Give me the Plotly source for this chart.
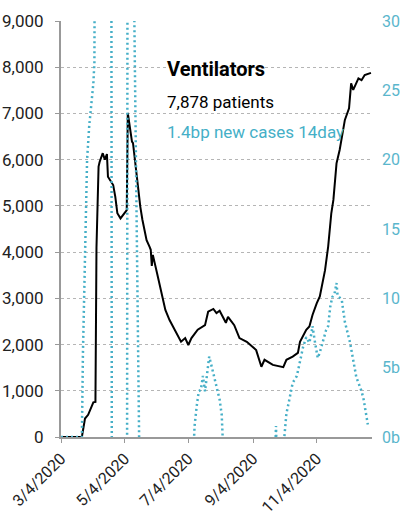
import plotly.graph_objects as go

# Ventilator patients (left axis)
vent_dates = ["2020-03-04","2020-03-24","2020-03-27","2020-03-30","2020-04-04","2020-04-06",
              "2020-04-07","2020-04-09","2020-04-10","2020-04-13","2020-04-15","2020-04-17",
              "2020-04-18","2020-04-23","2020-04-25","2020-04-27","2020-04-30","2020-05-04",
              "2020-05-06","2020-05-07","2020-05-11","2020-05-12","2020-05-16","2020-05-19",
              "2020-05-21","2020-05-25","2020-05-28","2020-05-29","2020-05-30","2020-05-31",
              "2020-06-04","2020-06-12","2020-06-16","2020-06-21","2020-06-27","2020-07-01",
              "2020-07-04","2020-07-07","2020-07-13","2020-07-20","2020-07-23","2020-07-28",
              "2020-07-31","2020-08-03","2020-08-09","2020-08-11","2020-08-17","2020-08-22",
              "2020-08-29","2020-09-07","2020-09-12","2020-09-15","2020-09-23","2020-10-03",
              "2020-10-06","2020-10-12","2020-10-17","2020-10-19","2020-10-25","2020-10-28",
              "2020-10-31","2020-11-04","2020-11-07","2020-11-12","2020-11-15","2020-11-18",
              "2020-11-20","2020-11-23","2020-11-26","2020-12-01","2020-12-05","2020-12-07",
              "2020-12-09","2020-12-14","2020-12-17","2020-12-20","2020-12-26"]
vent_values = [0,0,400,480,750,760,
               4100,5850,5950,6140,6000,6120,
               5630,5450,5200,4840,4730,4840,
               4910,7010,6390,6360,5490,4980,
               4700,4260,4110,4050,3700,3940,
               3550,2750,2530,2320,2060,2140,
               1990,2140,2320,2420,2710,2770,
               2680,2730,2470,2600,2420,2140,
               2060,1880,1520,1670,1560,1510,
               1670,1740,1820,2060,2320,2390,
               2640,2890,3040,3610,4120,4840,
               5130,5920,6210,6860,7110,7650,
               7510,7760,7720,7830,7878]

# New cases 14-day (right axis, billions "bp")
case_dates = ["2020-03-04","2020-03-24","2020-03-25","2020-03-26","2020-03-27","2020-03-29",
              "2020-03-31","2020-04-02","2020-04-04","2020-04-05","2020-04-06","2020-04-21",
              "2020-04-22","2020-05-06","2020-05-07","2020-05-13","2020-05-18","2020-07-09",
              "2020-07-10","2020-07-12","2020-07-14","2020-07-16","2020-07-18","2020-07-20",
              "2020-07-22","2020-07-24","2020-07-26","2020-07-28","2020-07-30","2020-08-01",
              "2020-08-03","2020-08-05","2020-08-06","2020-08-07","2020-09-25","2020-09-26",
              "2020-09-27","2020-10-03","2020-10-04","2020-10-06","2020-10-08","2020-10-12",
              "2020-10-16","2020-10-18","2020-10-20","2020-10-22","2020-10-25","2020-10-28",
              "2020-10-30","2020-10-31","2020-11-02","2020-11-04","2020-11-05","2020-11-07",
              "2020-11-10","2020-11-13","2020-11-15","2020-11-17","2020-11-19","2020-11-21",
              "2020-11-23","2020-11-24","2020-11-28","2020-12-01","2020-12-06","2020-12-09",
              "2020-12-12","2020-12-15","2020-12-17","2020-12-19","2020-12-21","2020-12-22",
              "2020-12-23"]
case_values = [0,0,6,10,14.7,20,
               22.4,23.8,25.5,27,50,60,
               -30,-30,60,32,-1,-1,
               0.8,2.2,3.3,3.4,4.4,3.3,
               4.6,5.8,5.2,4.6,3.8,3.2,
               2.7,1.6,0.3,-2,-2,0.8,
               -2,-2,0,1.7,2.4,3.9,
               4.4,5.1,6.0,6.5,7.2,6.8,
               7.5,8.0,7.0,6.2,5.7,6.1,
               7.0,7.7,8.0,9.4,10.1,10.3,
               11.1,10.2,9.9,8.3,6.8,5.6,
               4.3,3.7,3.3,2.7,1.9,1.4,
               0.9]

left_ticks = [0,1000,2000,3000,4000,5000,6000,7000,8000,9000]
right_ticks = [0,5,10,15,20,25,30]
right_ticktext = ["0b","5b","10","15","20","25","30"]
x_ticks = ["2020-03-04","2020-05-04","2020-07-04","2020-09-04","2020-11-04"]
x_ticktext = ["3/4/2020","5/4/2020","7/4/2020","9/4/2020","11/4/2020"]

BLUE = "#45afc7"
FONT = "Roboto, sans-serif"

fig = go.Figure()
fig.add_trace(go.Scatter(x=vent_dates, y=vent_values, mode="lines",
                         line=dict(color="black", width=2), yaxis="y"))
fig.add_trace(go.Scatter(x=case_dates, y=case_values, mode="lines",
                         line=dict(color=BLUE, width=2.5, dash="2px,3px"), yaxis="y2"))

fig.update_layout(
    width=401, height=520,
    margin=dict(l=61, r=29, t=21, b=83),
    paper_bgcolor="white", plot_bgcolor="white",
    showlegend=False,
    font=dict(family=FONT, size=17, color="#222"),
    xaxis=dict(type="date", range=["2020-03-04", "2020-12-27"], automargin=False,
               tickvals=x_ticks, ticktext=x_ticktext, tickangle=-45,
               showgrid=False, showline=True, linecolor="#999", linewidth=2,
               ticks="outside", ticklen=4, tickcolor="#999",
               tickfont=dict(size=16, color="#222"), zeroline=False),
    yaxis=dict(range=[0, 9000], tickvals=left_ticks, tickformat=",", automargin=False,
               showgrid=True, gridcolor="#b5b5b5", griddash="dot", gridwidth=1,
               showline=True, linecolor="#999", linewidth=2,
               ticks="outside", ticklen=4, tickcolor="#999",
               ticklabelstandoff=8,
               tickfont=dict(size=17, color="#222"), zeroline=False),
    yaxis2=dict(range=[0, 30], overlaying="y", side="right", automargin=False,
                tickvals=right_ticks, ticktext=right_ticktext,
                showgrid=False, showline=False, zeroline=False,
                ticks="", ticklabelstandoff=9,
                tickfont=dict(size=16, color="#5ab6cc")),
)

fig.add_annotation(xref="paper", yref="paper", x=0.335, y=0.885, xanchor="left", yanchor="middle",
                   text="<b>Ventilators</b>", showarrow=False,
                   font=dict(family=FONT, size=20, color="black"))
fig.add_annotation(xref="paper", yref="paper", x=0.335, y=0.806, xanchor="left", yanchor="middle",
                   text="7,878 patients", showarrow=False,
                   font=dict(family=FONT, size=17, color="black"))
fig.add_annotation(xref="paper", yref="paper", x=0.335, y=0.732, xanchor="left", yanchor="middle",
                   text="1.4bp new cases 14day", showarrow=False,
                   font=dict(family=FONT, size=17, color=BLUE))

fig.write_html("out.html", config={"displayModeBar": False},
               post_script="document.body.style.margin='0';document.body.style.overflow='hidden';")
